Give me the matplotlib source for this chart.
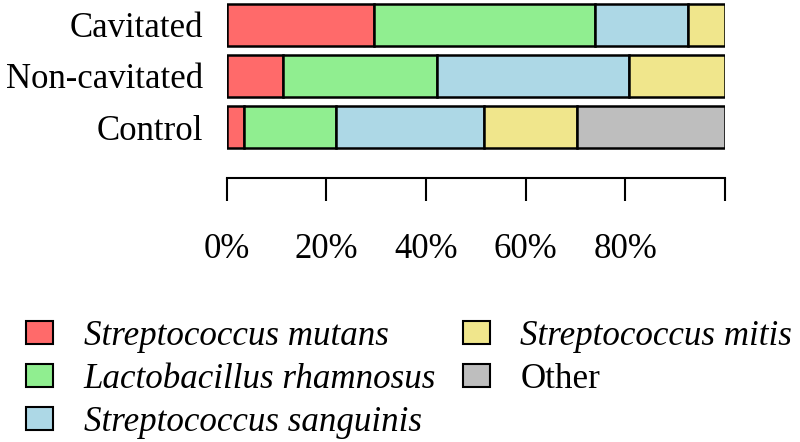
import numpy as np
import matplotlib
matplotlib.use("Agg")
import matplotlib.pyplot as plt
from matplotlib.patches import Patch

# ----------------------------
# Data (percent of reads per group)
# ----------------------------
groups = ["Cavitated", "Non-cavitated", "Control"]
taxa = ["Streptococcus mutans", "Lactobacillus rhamnosus",
        "Streptococcus sanguinis", "Streptococcus mitis", "Other"]
s_mutans = [29.5, 11.4, 3.6]
l_rhamnosus = [44.5, 30.8, 18.4]
s_sanguinis = [18.6, 38.5, 29.7]
s_mitis = [7.4, 19.3, 18.6]
other = [0.0, 0.0, 29.7]
tick_vals = [0, 20, 40, 60, 80, 100]
tick_labels = ["0%", "20%", "40%", "60%", "80%", ""]

colors = ["#FF6A6A", "#90EE90", "#ADD8E6", "#F0E68C", "#BEBEBE"]
italic = [True, True, True, True, False]

plt.rcParams["font.family"] = ["Liberation Serif", "DejaVu Serif"]
FS = 25
FS_LEG = 25.2

fig = plt.figure(figsize=(8, 4.42), dpi=100)
# axes spans bar area only, pixel coords converted to figure fractions
ax = fig.add_axes([226.5 / 800, 1 - 152 / 442, 498.5 / 800, 152 / 442])

ypos = np.array([2, 1, 0])
left = np.zeros(3)
series = [s_mutans, l_rhamnosus, s_sanguinis, s_mitis, other]
for vals, col in zip(series, colors):
    vals = np.array(vals)
    mask = vals > 0
    ax.barh(ypos[mask], vals[mask], left=left[mask], height=0.82,
            color=col, edgecolor="black", linewidth=1.8)
    left = left + vals

ax.set_xlim(0, 100)
ax.set_ylim(-0.49, 2.49)

for s in ["top", "right", "left"]:
    ax.spines[s].set_visible(False)
ax.spines["bottom"].set_position(("outward", 18.7))
ax.spines["bottom"].set_bounds(0, 100)
ax.spines["bottom"].set_linewidth(1.5)

ax.set_xticks(tick_vals)
ax.set_xticklabels(tick_labels, fontsize=FS)
ax.tick_params(axis="x", length=16.5, width=1.5, pad=23)
ax.set_yticks(ypos)
ax.set_yticklabels(groups, fontsize=FS)
ax.tick_params(axis="y", length=0, pad=17)

# ----------------------------
# Legend below the axis
# ----------------------------
handles = [Patch(facecolor=c, edgecolor="black", linewidth=1.5) for c in colors]
leg = fig.legend(handles, taxa, loc="upper left",
                 bbox_to_anchor=(26 / 800, 1 - 320 / 442),
                 ncol=2, frameon=False, fontsize=FS_LEG,
                 handlelength=0.77, handleheight=0.62, handletextpad=0.88,
                 columnspacing=0.76, labelspacing=0.28,
                 borderpad=0, borderaxespad=0)
for txt, it in zip(leg.get_texts(), italic):
    if it:
        txt.set_fontstyle("italic")

fig.savefig("out.png", dpi=100)
